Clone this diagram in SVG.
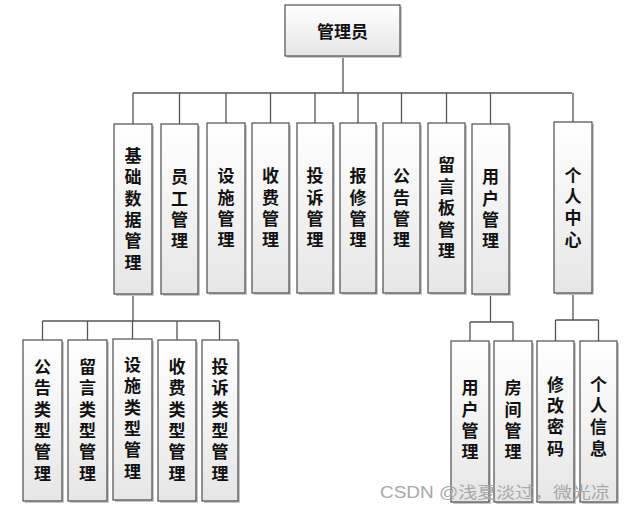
<svg xmlns="http://www.w3.org/2000/svg" width="626" height="511" viewBox="0 0 626 511">
<defs>
<linearGradient id="g" x1="0" y1="0" x2="0" y2="1">
<stop offset="0" stop-color="#ffffff"/>
<stop offset="1" stop-color="#e6e6e6"/>
</linearGradient>
</defs>
<style>
.box{fill:url(#g);stroke:#4d4d4d;stroke-width:1.2}
.sh{fill:#c8c8c8}
.t{font-family:"Noto Sans CJK SC","Noto Sans",sans-serif;font-weight:bold;font-size:17px;fill:#111;text-anchor:middle;dominant-baseline:central}
.v{font-family:"Noto Sans CJK SC","Noto Sans",sans-serif;font-weight:bold;font-size:17px;fill:#111;text-anchor:middle;writing-mode:vertical-rl;letter-spacing:4.4px}
.c{fill:none;stroke:#555;stroke-width:1.3}
.wm{font-family:"Liberation Sans","Noto Sans CJK SC",sans-serif;font-size:16px;fill:#a8a8a8}
</style>
<rect width="626" height="511" fill="#fff"/>
<g id="connectors">
<path class="c" d="M343 56V93M133 93H572M133 93V124M179.5 93V124M226 93V123M270.5 93V123M315 93V123M358 93V123M401.5 93V123M446.5 93V123M490.5 93V124M573 93V122"/>
<path class="c" d="M133 294V321M42.5 321H219.5M42.5 321V340M87.5 321V340M132.5 321V339M177 321V340M219.5 321V340"/>
<path class="c" d="M490.5 294V322M470 322H513M470 322V341M513 322V341"/>
<path class="c" d="M573 293V320M555.5 320H598.5M555.5 320V341M598.5 320V341"/>
</g>
<g id="admin"><rect class="sh" x="287" y="7" width="115" height="51"/><rect class="box" x="285" y="5" width="115" height="51"/><text class="t" x="342.5" y="30.5">管理员</text></g>
<g id="jcsj"><rect class="sh" x="116" y="126" width="38" height="170"/><rect class="box" x="114" y="124" width="38" height="170"/><text class="v" x="133" y="211">基础数据管理</text></g>
<g id="yggl"><rect class="sh" x="163" y="126" width="37" height="170"/><rect class="box" x="161" y="124" width="37" height="170"/><text class="v" x="179.5" y="211">员工管理</text></g>
<g id="ssgl"><rect class="sh" x="209" y="125" width="38" height="170"/><rect class="box" x="207" y="123" width="38" height="170"/><text class="v" x="226" y="210">设施管理</text></g>
<g id="sfgl"><rect class="sh" x="254" y="125" width="37" height="170"/><rect class="box" x="252" y="123" width="37" height="170"/><text class="v" x="270.5" y="210">收费管理</text></g>
<g id="tsgl"><rect class="sh" x="299" y="125" width="36" height="170"/><rect class="box" x="297" y="123" width="36" height="170"/><text class="v" x="315" y="210">投诉管理</text></g>
<g id="bxgl"><rect class="sh" x="342" y="125" width="36" height="170"/><rect class="box" x="340" y="123" width="36" height="170"/><text class="v" x="358" y="210">报修管理</text></g>
<g id="gggl"><rect class="sh" x="385" y="125" width="37" height="170"/><rect class="box" x="383" y="123" width="37" height="170"/><text class="v" x="401.5" y="210">公告管理</text></g>
<g id="lybgl"><rect class="sh" x="430" y="125" width="37" height="170"/><rect class="box" x="428" y="123" width="37" height="170"/><text class="v" x="446.5" y="210">留言板管理</text></g>
<g id="yhgl"><rect class="sh" x="474" y="126" width="37" height="170"/><rect class="box" x="472" y="124" width="37" height="170"/><text class="v" x="490.5" y="211">用户管理</text></g>
<g id="grzx"><rect class="sh" x="556" y="124" width="38" height="171"/><rect class="box" x="554" y="122" width="38" height="171"/><text class="v" x="573" y="209.5">个人中心</text></g>
<g id="gglx"><rect class="sh" x="25" y="342" width="39" height="161"/><rect class="box" x="23" y="340" width="39" height="161"/><text class="v" x="42.5" y="422">公告类型管理</text></g>
<g id="lylx"><rect class="sh" x="70" y="342" width="39" height="161"/><rect class="box" x="68" y="340" width="39" height="161"/><text class="v" x="87.5" y="422">留言类型管理</text></g>
<g id="sslx"><rect class="sh" x="115" y="341" width="39" height="161"/><rect class="box" x="113" y="339" width="39" height="161"/><text class="v" x="132.5" y="420">设施类型管理</text></g>
<g id="sflx"><rect class="sh" x="160" y="342" width="38" height="161"/><rect class="box" x="158" y="340" width="38" height="161"/><text class="v" x="177" y="422">收费类型管理</text></g>
<g id="tslx"><rect class="sh" x="204" y="342" width="36" height="161"/><rect class="box" x="202" y="340" width="36" height="161"/><text class="v" x="220" y="422">投诉类型管理</text></g>
<g id="yhgl2"><rect class="sh" x="453" y="343" width="38" height="161"/><rect class="box" x="451" y="341" width="38" height="161"/><text class="v" x="470" y="422">用户管理</text></g>
<g id="fjgl"><rect class="sh" x="496" y="343" width="38" height="161"/><rect class="box" x="494" y="341" width="38" height="161"/><text class="v" x="513" y="422">房间管理</text></g>
<g id="xgmm"><rect class="sh" x="539" y="343" width="37" height="161"/><rect class="box" x="537" y="341" width="37" height="161"/><text class="v" x="555.5" y="418.5">修改密码</text></g>
<g id="grxx"><rect class="sh" x="582" y="343" width="37" height="161"/><rect class="box" x="580" y="341" width="37" height="161"/><text class="v" x="598.5" y="418.5">个人信息</text></g>
<text class="wm" x="380" y="498" textLength="230" lengthAdjust="spacingAndGlyphs">CSDN @浅夏淡过，微光凉</text>
</svg>
